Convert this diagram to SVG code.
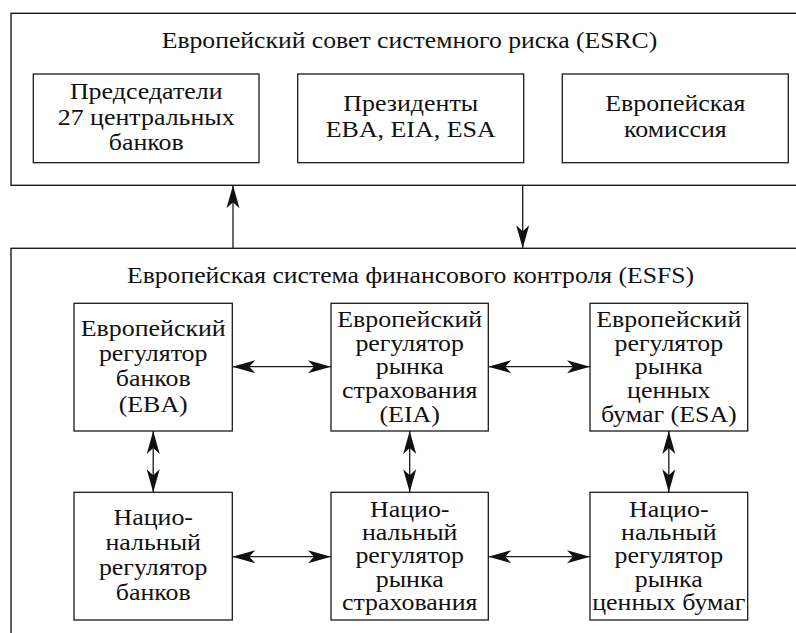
<svg xmlns="http://www.w3.org/2000/svg" width="796" height="633" viewBox="0 0 796 633">
<style>
.box{fill:#fff;stroke:#1a1a1a;stroke-width:1.3}
.frame{fill:none;stroke:#1a1a1a;stroke-width:1.4}
.t{font-family:'Liberation Serif','Times New Roman',serif;font-size:24px;fill:#111;text-anchor:middle}
.c{stroke:#1a1a1a;stroke-width:1.3;fill:none}
</style>
<defs>
<marker id="ah" markerUnits="userSpaceOnUse" markerWidth="30" markerHeight="20" viewBox="-26 -10 30 20" refX="0" refY="0" orient="auto-start-reverse">
<path d="M0,0 L-23,-6.5 L-17,0 L-23,6.5 Z" fill="#111"/>
</marker>
</defs>
<rect width="796" height="633" fill="#fff"/>
<g id="esrc">
<rect class="frame" x="11" y="13.3" width="800" height="172"/>
<text class="t" transform="translate(409.5 48) scale(1.07 1)">Европейский совет системного риска (ESRC)</text>
</g>
<g id="chairs">
<rect class="box" x="33.3" y="74" width="225.7" height="88.7"/>
<text class="t" transform="translate(146.2 99.3) scale(1.08 1)">Председатели</text>
<text class="t" transform="translate(146.2 124.7) scale(1.08 1)">27 центральных</text>
<text class="t" transform="translate(146.2 150) scale(1.08 1)">банков</text>
</g>
<g id="presidents">
<rect class="box" x="297.7" y="74" width="226" height="88.7"/>
<text class="t" transform="translate(410.7 111) scale(1.08 1)">Президенты</text>
<text class="t" transform="translate(410.7 137) scale(1.08 1)">EBA, EIA, ESA</text>
</g>
<g id="commission">
<rect class="box" x="562.3" y="74" width="226" height="88.7"/>
<text class="t" transform="translate(675.3 111) scale(1.08 1)">Европейская</text>
<text class="t" transform="translate(675.3 137) scale(1.08 1)">комиссия</text>
</g>
<g id="esfs">
<rect class="frame" x="11" y="248.3" width="800" height="400"/>
<text class="t" transform="translate(410.5 283) scale(1.07 1)">Европейская система финансового контроля (ESFS)</text>
</g>
<g id="eba">
<rect class="box" x="74" y="303.3" width="158.3" height="127.7"/>
<text class="t" transform="translate(153.2 335.7) scale(1.08 1)">Европейский</text>
<text class="t" transform="translate(153.2 361) scale(1.08 1)">регулятор</text>
<text class="t" transform="translate(153.2 386.3) scale(1.08 1)">банков</text>
<text class="t" transform="translate(153.2 411.6) scale(1.08 1)">(EBA)</text>
</g>
<g id="eia">
<rect class="box" x="331" y="303.3" width="157.3" height="127.7"/>
<text class="t" transform="translate(409.7 326.7) scale(1.08 1)">Европейский</text>
<text class="t" transform="translate(409.7 350.5) scale(1.08 1)">регулятор</text>
<text class="t" transform="translate(409.7 374.2) scale(1.08 1)">рынка</text>
<text class="t" transform="translate(409.7 398) scale(1.08 1)">страхования</text>
<text class="t" transform="translate(409.7 421.7) scale(1.08 1)">(EIA)</text>
</g>
<g id="esa">
<rect class="box" x="590" y="303.3" width="157.7" height="127.7"/>
<text class="t" transform="translate(668.8 326.7) scale(1.08 1)">Европейский</text>
<text class="t" transform="translate(668.8 350.5) scale(1.08 1)">регулятор</text>
<text class="t" transform="translate(668.8 374.2) scale(1.08 1)">рынка</text>
<text class="t" transform="translate(668.8 398) scale(1.08 1)">ценных</text>
<text class="t" transform="translate(668.8 421.7) scale(1.08 1)">бумаг (ESA)</text>
</g>
<g id="nat-banks">
<rect class="box" x="74" y="492.3" width="158.3" height="127.7"/>
<text class="t" transform="translate(153.2 524.5) scale(1.08 1)">Нацио-</text>
<text class="t" transform="translate(153.2 549.8) scale(1.08 1)">нальный</text>
<text class="t" transform="translate(153.2 575.1) scale(1.08 1)">регулятор</text>
<text class="t" transform="translate(153.2 600.4) scale(1.08 1)">банков</text>
</g>
<g id="nat-ins">
<rect class="box" x="331" y="492.3" width="157.3" height="127.7"/>
<text class="t" transform="translate(409.7 516.7) scale(1.08 1)">Нацио-</text>
<text class="t" transform="translate(409.7 540) scale(1.08 1)">нальный</text>
<text class="t" transform="translate(409.7 563.4) scale(1.08 1)">регулятор</text>
<text class="t" transform="translate(409.7 586.7) scale(1.08 1)">рынка</text>
<text class="t" transform="translate(409.7 610) scale(1.08 1)">страхования</text>
</g>
<g id="nat-sec">
<rect class="box" x="590" y="492.3" width="157.7" height="127.7"/>
<text class="t" transform="translate(668.8 516.7) scale(1.08 1)">Нацио-</text>
<text class="t" transform="translate(668.8 540) scale(1.08 1)">нальный</text>
<text class="t" transform="translate(668.8 563.4) scale(1.08 1)">регулятор</text>
<text class="t" transform="translate(668.8 586.7) scale(1.08 1)">рынка</text>
<text class="t" transform="translate(668.8 610) scale(1.08 1)">ценных бумаг</text>
</g>
<g id="connectors">
<line class="c" x1="233" y1="248.3" x2="233" y2="185.3" marker-end="url(#ah)"/>
<line class="c" x1="522.7" y1="185.3" x2="522.7" y2="248.3" marker-end="url(#ah)"/>
<line class="c" x1="232.3" y1="366.7" x2="331" y2="366.7" marker-start="url(#ah)" marker-end="url(#ah)"/>
<line class="c" x1="488.3" y1="366.7" x2="590" y2="366.7" marker-start="url(#ah)" marker-end="url(#ah)"/>
<line class="c" x1="232.3" y1="556.7" x2="331" y2="556.7" marker-start="url(#ah)" marker-end="url(#ah)"/>
<line class="c" x1="488.3" y1="556.7" x2="590" y2="556.7" marker-start="url(#ah)" marker-end="url(#ah)"/>
<line class="c" x1="153.2" y1="431" x2="153.2" y2="492.3" marker-start="url(#ah)" marker-end="url(#ah)"/>
<line class="c" x1="409.7" y1="431" x2="409.7" y2="492.3" marker-start="url(#ah)" marker-end="url(#ah)"/>
<line class="c" x1="668.8" y1="431" x2="668.8" y2="492.3" marker-start="url(#ah)" marker-end="url(#ah)"/>
</g>
</svg>
